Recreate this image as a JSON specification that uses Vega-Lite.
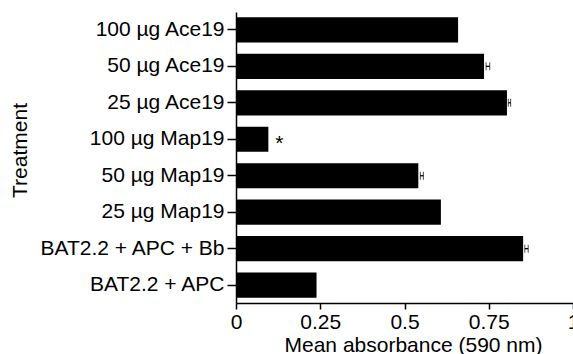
{
  "$schema": "https://vega.github.io/schema/vega-lite/v6.json",
  "width": 337,
  "height": 291,
  "autosize": {"type": "none"},
  "padding": {"left": 236, "top": 12, "right": 0, "bottom": 51},
  "background": "white",
  "config": {
    "view": {"stroke": null},
    "font": "Liberation Sans",
    "axis": {
      "domainColor": "black",
      "domainWidth": 1.5,
      "tickColor": "black",
      "tickWidth": 1.5,
      "labelColor": "black",
      "titleColor": "black",
      "labelFont": "Liberation Sans",
      "titleFont": "Liberation Sans",
      "labelFontSize": 21,
      "titleFontSize": 21,
      "titleFontWeight": "normal",
      "grid": false
    }
  },
  "resolve": {"axis": {"x": "independent"}},
  "data": {
    "values": [
      {"treatment": "100 µg Ace19", "value": 0.659, "lo": null, "hi": null, "sig": ""},
      {"treatment": "50 µg Ace19", "value": 0.736, "lo": 0.742, "hi": 0.753, "sig": ""},
      {"treatment": "25 µg Ace19", "value": 0.804, "lo": 0.808, "hi": 0.815, "sig": ""},
      {"treatment": "100 µg Map19", "value": 0.096, "lo": null, "hi": null, "sig": "*"},
      {"treatment": "50 µg Map19", "value": 0.541, "lo": 0.547, "hi": 0.556, "sig": ""},
      {"treatment": "25 µg Map19", "value": 0.608, "lo": null, "hi": null, "sig": ""},
      {"treatment": "BAT2.2 + APC + Bb", "value": 0.852, "lo": 0.857, "hi": 0.867, "sig": ""},
      {"treatment": "BAT2.2 + APC", "value": 0.239, "lo": null, "hi": null, "sig": ""}
    ]
  },
  "encoding": {
    "y": {
      "field": "treatment",
      "type": "nominal",
      "sort": null,
      "scale": {"paddingInner": 0.31, "paddingOuter": 0.145},
      "axis": {
        "title": "Treatment",
        "tickSize": 9,
        "labelPadding": 3,
        "titleAngle": 270,
        "titleAlign": "center",
        "titleBaseline": "alphabetic",
        "titleX": -210,
        "titleY": 138,
        "labelLimit": 300
      }
    }
  },
  "layer": [
    {
      "mark": {"type": "bar", "color": "black"},
      "encoding": {
        "x": {
          "field": "value",
          "type": "quantitative",
          "title": "Mean absorbance (590 nm)",
          "scale": {"domain": [0, 1], "nice": false},
          "axis": {
            "values": [0, 0.25, 0.5, 0.75, 1],
            "format": ".2~f",
            "tickSize": 6,
            "labelPadding": 2,
            "titleAlign": "center",
            "titleBaseline": "alphabetic",
            "titleX": 177,
            "titleY": 48,
            "labelFlush": false,
            "labelOverlap": false
          }
        }
      }
    },
    {
      "transform": [{"filter": "datum.lo != null"}],
      "mark": {"type": "errorbar", "ticks": {"size": 8, "color": "black", "strokeWidth": 1.3}, "rule": {"color": "black", "strokeWidth": 1.3}},
      "encoding": {
        "x": {"field": "lo", "type": "quantitative", "axis": null},
        "x2": {"field": "hi"}
      }
    },
    {
      "transform": [{"filter": "datum.sig != ''"}],
      "mark": {"type": "text", "align": "left", "baseline": "middle", "dx": 7, "dy": 5, "fontSize": 21, "color": "black", "font": "Liberation Sans"},
      "encoding": {
        "x": {"field": "value", "type": "quantitative", "axis": null},
        "text": {"field": "sig"}
      }
    }
  ]
}
